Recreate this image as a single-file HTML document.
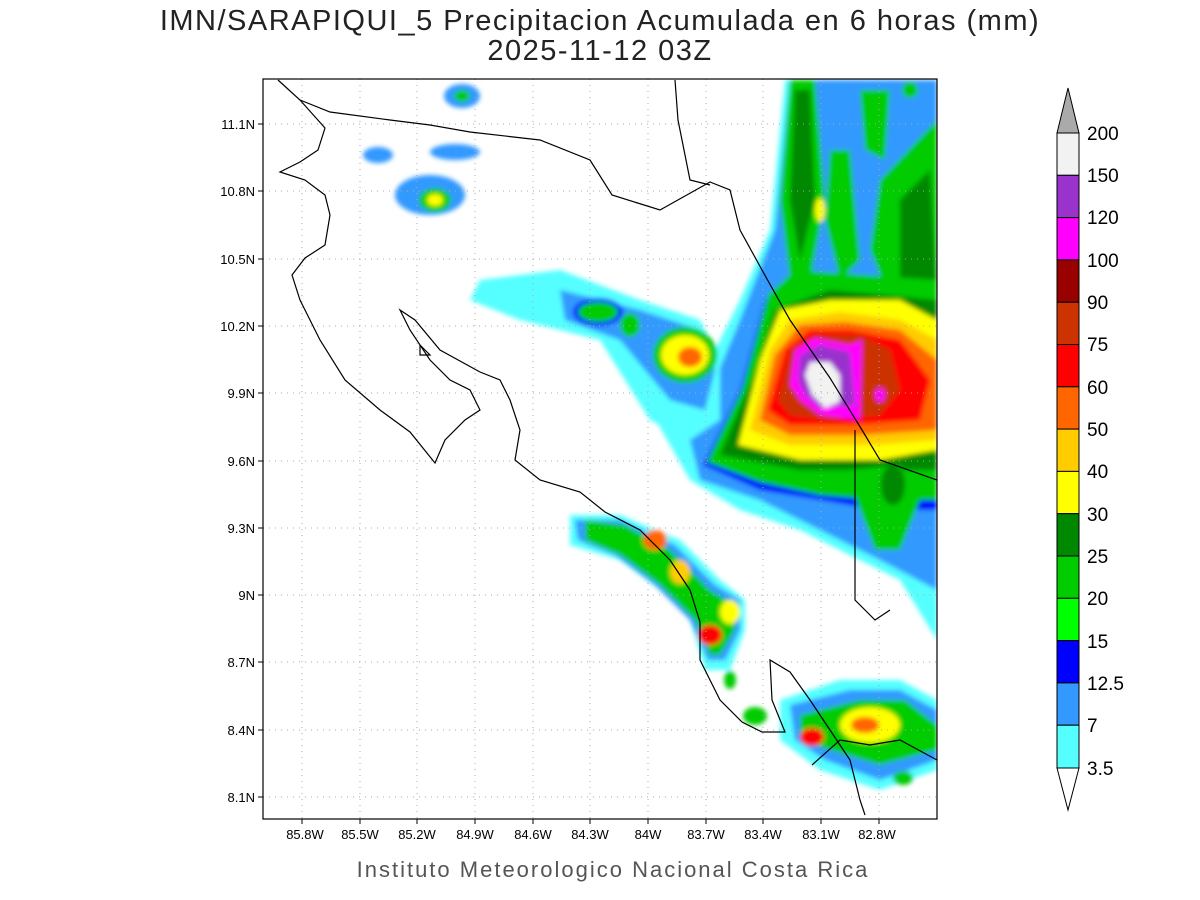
<!DOCTYPE html>
<html><head><meta charset="utf-8"><style>
body{margin:0;background:#fff;width:1200px;height:900px;overflow:hidden}
svg{display:block}
text{font-family:"Liberation Sans",sans-serif}
</style></head><body>
<svg width="1200" height="900" viewBox="0 0 1200 900">
<defs>
<filter id="b" x="-10%" y="-10%" width="120%" height="120%"><feGaussianBlur stdDeviation="2.5"/></filter>
<clipPath id="c"><rect x="263" y="79" width="674" height="740"/></clipPath>
</defs>
<text x="600" y="30" font-size="29" text-anchor="middle" fill="#222" letter-spacing="1.5">IMN/SARAPIQUI_5 Precipitacion Acumulada en 6 horas (mm)</text>
<text x="600" y="60" font-size="29" text-anchor="middle" fill="#222" letter-spacing="1.5">2025-11-12 03Z</text>
<g clip-path="url(#c)">
<g filter="url(#b)">
<polygon fill="#5ff" points="650,410 700,380 740,300 770,230 785,80 937,80 937,640 900,580 860,560 800,530 740,510 690,480"/>
<polygon fill="#39f" points="690,440 740,320 775,230 790,80 937,80 937,590 880,560 820,530 760,500 700,480"/>
<polygon fill="#0c0" points="790,80 815,80 825,200 810,280 790,280 780,200"/>
<polygon fill="#080" points="795,90 810,90 815,200 800,260 790,200"/>
<polygon fill="#0c0" points="830,150 850,150 860,260 840,280 825,220"/>
<polygon fill="#0c0" points="880,180 937,120 937,300 890,300 870,250"/>
<polygon fill="#080" points="900,200 930,170 937,290 900,290"/>
<polygon fill="#0c0" points="860,90 890,90 885,160 865,150"/>
<ellipse cx="820" cy="210" rx="5" ry="12" fill="#ff0"/>
<ellipse cx="910" cy="90" rx="8" ry="8" fill="#0c0"/>
<polygon fill="#00f" points="703,465 740,390 765,300 790,280 937,290 937,510 880,510 820,500 760,490"/>
<polygon fill="#0c0" points="707,462 742,390 768,295 795,270 937,280 937,500 880,500 820,495 760,482"/>
<polygon fill="#080" points="720,455 752,380 775,310 830,290 937,300 937,470 880,470 800,470"/>
<polygon fill="#ff0" points="738,445 760,360 780,310 830,300 900,300 937,320 937,450 880,460 800,460"/>
<polygon fill="#fc0" points="750,430 770,350 790,320 840,312 900,320 937,340 937,440 870,445 790,445"/>
<polygon fill="#f60" points="760,420 775,355 800,325 845,322 900,330 937,360 937,430 860,435 790,435"/>
<polygon fill="#f00" points="768,410 785,350 810,330 850,330 900,340 930,380 920,420 850,425 790,425"/>
<polygon fill="#c30" points="778,400 790,350 815,335 860,335 890,350 900,390 880,415 830,420 790,415"/>
<polygon fill="#f0f" points="790,385 795,350 815,338 850,345 862,340 860,420 820,415 800,400"/>
<polygon fill="#93c" points="798,380 800,355 820,345 850,352 855,405 820,408 805,395"/>
<polygon fill="#f2f2f2" points="805,375 810,362 830,362 840,375 840,402 825,408 812,395"/>
<ellipse cx="880" cy="395" rx="5" ry="7" fill="#f0f"/>
<polygon fill="#0c0" points="845,470 900,465 920,500 900,550 875,550 860,510"/>
<ellipse cx="893" cy="485" rx="12" ry="20" fill="#080"/>
<polygon fill="#5ff" points="480,280 560,270 640,300 700,320 720,360 720,420 690,440 650,420 600,340 520,320 470,300"/>
<polygon fill="#39f" points="560,290 640,310 700,330 715,370 705,410 670,400 620,340 565,320"/>
<ellipse cx="598" cy="312" rx="25" ry="14" fill="#00f"/>
<ellipse cx="598" cy="312" rx="20" ry="10" fill="#0c0"/>
<ellipse cx="685" cy="355" rx="32" ry="28" fill="#0c0"/>
<ellipse cx="685" cy="355" rx="24" ry="20" fill="#ff0"/>
<ellipse cx="690" cy="357" rx="12" ry="10" fill="#f60"/>
<ellipse cx="630" cy="325" rx="10" ry="12" fill="#0c0"/>
<ellipse cx="430" cy="195" rx="35" ry="20" fill="#39f"/>
<ellipse cx="435" cy="200" rx="16" ry="12" fill="#0c0"/>
<ellipse cx="435" cy="200" rx="8" ry="6" fill="#ff0"/>
<ellipse cx="455" cy="152" rx="25" ry="8" fill="#39f"/>
<ellipse cx="462" cy="96" rx="18" ry="12" fill="#39f"/>
<ellipse cx="462" cy="96" rx="8" ry="6" fill="#0c0"/>
<ellipse cx="378" cy="155" rx="15" ry="8" fill="#39f"/>
<polygon fill="#5ff" points="570,515 620,515 680,540 720,580 745,600 745,630 730,670 705,670 690,620 660,590 620,560 570,545"/>
<polygon fill="#39f" points="575,520 620,520 675,545 715,585 740,600 740,630 725,660 708,660 690,620 655,585 615,555 578,540"/>
<polygon fill="#0c0" points="585,520 625,525 670,550 710,590 735,605 735,630 720,655 710,655 695,620 660,585 620,555 585,540"/>
<ellipse cx="655" cy="540" rx="12" ry="10" fill="#f60"/>
<ellipse cx="680" cy="572" rx="10" ry="12" fill="#fc0"/>
<ellipse cx="710" cy="635" rx="12" ry="10" fill="#f00"/>
<ellipse cx="730" cy="612" rx="10" ry="12" fill="#ff0"/>
<polygon fill="#5ff" points="780,700 840,680 900,680 937,700 937,770 880,790 820,770 780,740"/>
<polygon fill="#39f" points="790,705 850,690 900,690 937,710 937,760 880,780 825,760 795,740"/>
<polygon fill="#0c0" points="800,715 860,700 905,700 937,725 937,750 880,765 830,750 800,740"/>
<ellipse cx="870" cy="725" rx="30" ry="18" fill="#ff0"/>
<ellipse cx="865" cy="725" rx="14" ry="8" fill="#f60"/>
<ellipse cx="812" cy="737" rx="12" ry="9" fill="#f00"/>
<ellipse cx="755" cy="716" rx="12" ry="9" fill="#0c0"/>
<ellipse cx="730" cy="680" rx="6" ry="9" fill="#0c0"/>
<ellipse cx="903" cy="778" rx="10" ry="7" fill="#0c0"/>
</g>
<g stroke="#aaa" stroke-dasharray="1,5" stroke-width="1">
<path d="M302 79V819M360 79V819M417 79V819M475 79V819M533 79V819M590 79V819M648 79V819M706 79V819M763 79V819M821 79V819M879 79V819"/>
<path d="M263 124H937M263 191H937M263 259H937M263 326H937M263 393H937M263 461H937M263 528H937M263 595H937M263 662H937M263 730H937M263 797H937"/>
</g>
<g fill="none" stroke="#000" stroke-width="1.2">
<path d="M278 80L300 100L325 128L318 150L300 162L280 172L305 180L325 195L330 215L325 245L305 258L292 275L300 300L320 340L345 380L380 410L410 432L435 463L445 440L465 420L480 410L470 390L450 380L430 360L410 330L400 310L415 320L440 350L480 372L500 380L510 400L520 430L515 460L540 480L580 492L605 512L640 530L670 560L690 590L700 622L700 660L720 700L742 722L762 732L785 732L772 700L770 660L790 672L810 700L830 730L850 760L860 800L865 815"/>
<path d="M300 100L330 112L390 120L430 125L470 132L540 140L590 160L612 195L660 210L710 182L730 190L740 230L762 270L790 320L830 378L862 430L880 460L937 480"/>
<path d="M675 80L678 120L690 180L710 185"/>
<path d="M855 430L855 600L875 620L890 610"/>
<path d="M812 765L840 740L870 745L900 740L937 760"/>
<path d="M420 345L430 355L420 355Z"/>
</g>
</g>
<rect x="263" y="79" width="674" height="740" fill="none" stroke="#000" stroke-width="1.2"/>
<g stroke="#000" stroke-width="1">
<path d="M302 819v5M360 819v5M417 819v5M475 819v5M533 819v5M590 819v5M648 819v5M706 819v5M763 819v5M821 819v5M879 819v5"/>
<path d="M263 124h-5M263 191h-5M263 259h-5M263 326h-5M263 393h-5M263 461h-5M263 528h-5M263 595h-5M263 662h-5M263 730h-5M263 797h-5"/>
</g>
<g font-size="13" fill="#000" text-anchor="end">
<text x="255" y="129">11.1N</text><text x="255" y="196">10.8N</text><text x="255" y="264">10.5N</text><text x="255" y="331">10.2N</text><text x="255" y="398">9.9N</text><text x="255" y="466">9.6N</text><text x="255" y="533">9.3N</text><text x="255" y="600">9N</text><text x="255" y="667">8.7N</text><text x="255" y="735">8.4N</text><text x="255" y="802">8.1N</text>
</g>
<g font-size="13" fill="#000" text-anchor="middle">
<text x="305" y="839">85.8W</text><text x="360" y="839">85.5W</text><text x="417" y="839">85.2W</text><text x="475" y="839">84.9W</text><text x="533" y="839">84.6W</text><text x="590" y="839">84.3W</text><text x="648" y="839">84W</text><text x="706" y="839">83.7W</text><text x="763" y="839">83.4W</text><text x="821" y="839">83.1W</text><text x="877" y="839">82.8W</text>
</g>
<text x="613" y="877" font-size="22" text-anchor="middle" fill="#555" letter-spacing="2">Instituto Meteorologico Nacional Costa Rica</text>
<g stroke="#000" stroke-width="1">
<polygon points="1057,133 1068,88 1079,133" fill="#aaa"/>
<rect x="1057" y="133" width="22" height="42.3" fill="#f2f2f2"/>
<rect x="1057" y="175.3" width="22" height="42.3" fill="#93c"/>
<rect x="1057" y="217.6" width="22" height="42.3" fill="#f0f"/>
<rect x="1057" y="259.9" width="22" height="42.3" fill="#900"/>
<rect x="1057" y="302.2" width="22" height="42.3" fill="#c30"/>
<rect x="1057" y="344.5" width="22" height="42.3" fill="#f00"/>
<rect x="1057" y="386.8" width="22" height="42.3" fill="#f60"/>
<rect x="1057" y="429.1" width="22" height="42.3" fill="#fc0"/>
<rect x="1057" y="471.4" width="22" height="42.3" fill="#ff0"/>
<rect x="1057" y="513.7" width="22" height="42.3" fill="#080"/>
<rect x="1057" y="556" width="22" height="42.3" fill="#0c0"/>
<rect x="1057" y="598.3" width="22" height="42.3" fill="#0f0"/>
<rect x="1057" y="640.6" width="22" height="42.3" fill="#00f"/>
<rect x="1057" y="682.9" width="22" height="42.3" fill="#39f"/>
<rect x="1057" y="725.2" width="22" height="42.8" fill="#5ff"/>
<polygon points="1057,768 1068,810 1079,768" fill="#fff"/>
</g>
<g font-size="19" fill="#000">
<text x="1087" y="140">200</text><text x="1087" y="182">150</text><text x="1087" y="224">120</text><text x="1087" y="267">100</text><text x="1087" y="309">90</text><text x="1087" y="351">75</text><text x="1087" y="394">60</text><text x="1087" y="436">50</text><text x="1087" y="478">40</text><text x="1087" y="521">30</text><text x="1087" y="563">25</text><text x="1087" y="605">20</text><text x="1087" y="648">15</text><text x="1087" y="690">12.5</text><text x="1087" y="732">7</text><text x="1087" y="775">3.5</text>
</g>
</svg>
</body></html>
